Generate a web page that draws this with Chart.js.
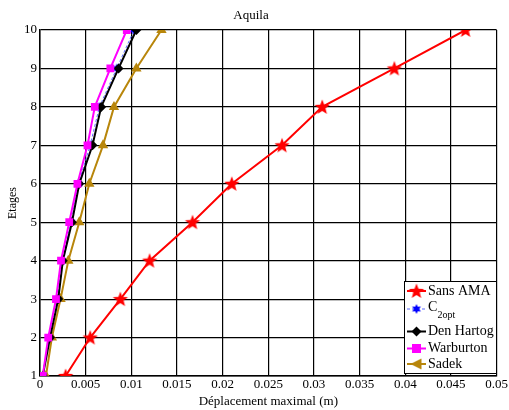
<!DOCTYPE html>
<html>
<head>
<meta charset="utf-8">
<script src="https://cdn.jsdelivr.net/npm/chart.js@4"></script>
<style>
  html, body { margin: 0; padding: 0; background: #fff; }
  canvas { display: block; }
</style>
</head>
<body>
<canvas id="aquila" width="509" height="410"></canvas>
<script>
// etages (y) et deplacement maximal en m (x)
const etages = [1, 2, 3, 4, 5, 6, 7, 8, 9, 10];
const sansAMA = [0.0028, 0.0055, 0.0088, 0.0120, 0.0167, 0.0210, 0.0265, 0.0309, 0.0388, 0.0466];
const c2opt = [0.0003, 0.0010, 0.0019, 0.0024, 0.0034, 0.0042, 0.0055, 0.0065, 0.0084, 0.0103];
const denHartog = [0.0003, 0.0011, 0.0020, 0.0025, 0.0035, 0.0043, 0.00575, 0.0067, 0.0086, 0.01055];
const warburton = [0.0003, 0.0009, 0.00175, 0.0023, 0.0032, 0.0041, 0.0052, 0.0060, 0.0077, 0.0095];
const sadek = [0.00065, 0.0013, 0.00225, 0.0031, 0.0043, 0.0054, 0.0069, 0.0081, 0.01055, 0.0133];

const xTicks = ["0", "0.005", "0.01", "0.015", "0.02", "0.025", "0.03", "0.035", "0.04", "0.045", "0.05"];

const serif = "'Liberation Serif', 'Times New Roman', serif";

function pts(xs) {
  return xs.map((x, i) => ({ x: x, y: etages[i] }));
}

// markers
function starPath(ctx, cx, cy, n, ro, ri) {
  ctx.beginPath();
  for (let i = 0; i < 2 * n; i++) {
    const r = i % 2 === 0 ? ro : ri;
    const a = -Math.PI / 2 + (i * Math.PI) / n;
    const px = cx + r * Math.cos(a), py = cy + r * Math.sin(a);
    if (i === 0) ctx.moveTo(px, py); else ctx.lineTo(px, py);
  }
  ctx.closePath();
}

function makeMarker(size, draw) {
  const c = document.createElement("canvas");
  c.width = size; c.height = size;
  draw(c.getContext("2d"), size / 2);
  return c;
}

const redStar = makeMarker(18, (ctx, m) => {
  starPath(ctx, m, m + 0.5, 5, 8, 3.4);
  ctx.fillStyle = "#ff0000"; ctx.fill();
});
const blueStar = makeMarker(12, (ctx, m) => {
  starPath(ctx, m, m, 6, 5, 2.6);
  ctx.fillStyle = "#0000ff"; ctx.fill();
});
const leftTri = makeMarker(14, (ctx, m) => {
  ctx.beginPath();
  ctx.moveTo(m - 6, m); ctx.lineTo(m + 5, m - 5.5); ctx.lineTo(m + 5, m + 5.5);
  ctx.closePath();
  ctx.fillStyle = "#b8860b"; ctx.fill();
});

const series = [
  { label: "Sans AMA", data: sansAMA, color: "#ff0000", style: redStar, radius: 8, width: 2 },
  { label: "C2opt", data: c2opt, color: "#5a6aff", style: blueStar, radius: 5, width: 1, dash: [3, 2] },
  { label: "Den Hartog", data: denHartog, color: "#000000", style: "rectRot", radius: 5, width: 2 },
  { label: "Warburton", data: warburton, color: "#ff00ff", style: "rect", radius: 5.5, width: 2 },
  { label: "Sadek", data: sadek, color: "#b8860b", style: "triangle", radius: 6, width: 2 }
];

// legend in the lower right corner, like matlab
const boxLegend = {
  id: "boxLegend",
  afterDraw(chart) {
    const ctx = chart.ctx;
    const left = 404, top = 281, right = 496, bottom = 373;
    ctx.save();
    ctx.fillStyle = "#fff";
    ctx.fillRect(left, top, right - left, bottom - top);
    ctx.strokeStyle = "#000";
    ctx.lineWidth = 1;
    ctx.strokeRect(left + 0.5, top + 0.5, right - left, bottom - top);
    const rows = [291, 309, 331.5, 348.5, 364];
    const icons = [redStar, blueStar, null, null, leftTri];
    ctx.font = "14px " + serif;
    ctx.textBaseline = "middle";
    series.forEach((s, i) => {
      const y = rows[i];
      ctx.strokeStyle = s.color;
      ctx.lineWidth = s.width;
      ctx.setLineDash(s.dash || []);
      ctx.beginPath();
      ctx.moveTo(407, y); ctx.lineTo(426, y); ctx.stroke();
      ctx.setLineDash([]);
      const cx = 416.5;
      if (icons[i]) {
        ctx.drawImage(icons[i], cx - icons[i].width / 2, y - icons[i].height / 2);
      } else if (s.style === "rectRot") {
        ctx.fillStyle = s.color;
        ctx.beginPath();
        ctx.moveTo(cx, y - 5); ctx.lineTo(cx + 5, y); ctx.lineTo(cx, y + 5); ctx.lineTo(cx - 5, y);
        ctx.closePath(); ctx.fill();
      } else {
        ctx.fillStyle = s.color;
        ctx.fillRect(cx - 4.5, y - 4.5, 9, 9);
      }
      ctx.fillStyle = "#000";
      if (s.label === "C2opt") {
        ctx.fillText("C", 428, y - 2);
        ctx.font = "10px " + serif;
        ctx.fillText("2opt", 437.5, y + 6);
        ctx.font = "14px " + serif;
      } else {
        ctx.fillText(s.label, 428, y);
      }
    });
    ctx.restore();
  }
};

new Chart(document.getElementById("aquila"), {
  type: "scatter",
  data: {
    datasets: series.map((s, i) => ({
      label: s.label,
      data: pts(s.data),
      showLine: true,
      borderColor: s.color,
      backgroundColor: s.color,
      borderWidth: s.width,
      borderDash: s.dash || [],
      pointStyle: s.style,
      pointRadius: s.radius,
      pointBorderWidth: 0,
      order: [5, 3, 2, 1, 4][i]
    }))
  },
  options: {
    responsive: false,
    animation: false,
    layout: { padding: { left: 0, right: 7, top: 0, bottom: 0 } },
    plugins: {
      legend: { display: false },
      tooltip: { enabled: false },
      title: {
        display: true,
        text: "Aquila",
        color: "#000",
        font: { family: serif, size: 13, weight: "normal" },
        padding: { top: 8, bottom: 6.4 }
      }
    },
    scales: {
      x: {
        type: "linear",
        min: 0,
        max: 0.05,
        afterFit(scale) { scale.height = 34; },
        afterBuildTicks(scale) {
          scale.ticks = xTicks.map(t => ({ value: parseFloat(t) }));
        },
        ticks: {
          color: "#000",
          font: { family: serif, size: 13 },
          padding: 1,
          maxRotation: 0,
          callback: (v, i) => xTicks[i]
        },
        grid: { color: "#000", lineWidth: 1.2, drawTicks: false },
        border: { color: "#000", width: 1.5 },
        title: {
          display: true,
          text: "Déplacement maximal (m)",
          color: "#000",
          font: { family: serif, size: 13 },
          padding: { top: 0, bottom: 1 }
        }
      },
      y: {
        type: "linear",
        min: 1,
        max: 10,
        afterFit(scale) { scale.width = 40; },
        ticks: {
          stepSize: 1,
          color: "#000",
          font: { family: serif, size: 13 },
          padding: 3
        },
        grid: { color: "#000", lineWidth: 1.2, drawTicks: false },
        border: { color: "#000", width: 1.5 },
        title: {
          display: true,
          text: "Etages",
          color: "#000",
          font: { family: serif, size: 12 },
          padding: { top: 6, bottom: 0 }
        }
      }
    }
  },
  plugins: [boxLegend]
});
</script>
</body>
</html>
